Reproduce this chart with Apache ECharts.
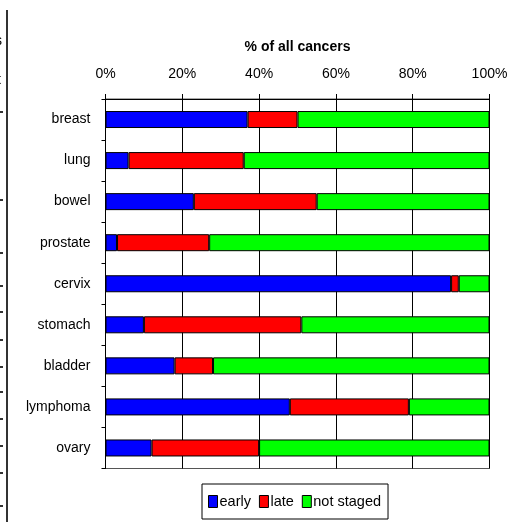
<!DOCTYPE html>
<html>
<head>
<meta charset="utf-8">
<script src="https://cdn.jsdelivr.net/npm/echarts@6/dist/echarts.min.js"></script>
<style>
html,body{margin:0;padding:0;background:#fff;}
#chart{width:525px;height:522px;}
</style>
</head>
<body>
<div id="chart"></div>
<script>
const categories = ['breast','lung','bowel','prostate','cervix','stomach','bladder','lymphoma','ovary'];
const early = [37, 6, 23, 3, 90, 10, 18, 48, 12];
const late = [13, 30, 32, 24, 2, 41, 10, 31, 28];
const notStaged = [50, 64, 45, 73, 8, 49, 72, 21, 60];
const seriesNames = ['early', 'late', 'not staged'];
const tickLabels = ['0%', '20%', '40%', '60%', '80%', '100%'];
const axisTitle = '% of all cancers';
const colors = ['#0000FF', '#FF0000', '#00FF00'];

const FONT = 'Liberation Sans, Arial, sans-serif';
const chart = echarts.init(document.getElementById('chart'), null, {renderer: 'canvas'});

const dashYs = [112, 200, 253, 286, 312, 340, 367, 392, 419, 446, 473, 506];
const graphics = [
  {type: 'line', shape: {x1: 7, y1: 10, x2: 7, y2: 522}, style: {stroke: '#333', lineWidth: 2}},
  {type: 'text', left: -5, top: 34, style: {text: 's', font: '14px ' + FONT, fill: '#000'}},
  {type: 'text', left: -3, top: 73, style: {text: 't', font: '14px ' + FONT, fill: '#000'}}
];
dashYs.forEach(y => graphics.push({type: 'line', shape: {x1: 0, y1: y, x2: 3, y2: y}, style: {stroke: '#333', lineWidth: 2}}));

const data = [early, late, notStaged];
chart.setOption({
  animation: false,
  backgroundColor: '#fff',
  graphic: graphics,
  grid: {left: 105.5, right: 35.5, top: 99, bottom: 53.5, containLabel: false, show: true,
         borderColor: '#555555', borderWidth: 1, backgroundColor: 'transparent'},
  legend: {
    top: 484,
    left: 202,
    data: seriesNames,
    itemWidth: 9,
    itemHeight: 12,
    itemGap: 8,
    padding: [10, 7, 10, 6],
    borderColor: '#000',
    borderWidth: 1,
    borderRadius: 0,
    textStyle: {fontFamily: FONT, fontSize: 14.5, color: '#000', padding: [0, 0, 0, -3]},
    itemStyle: {borderColor: '#000', borderWidth: 1},
    icon: 'rect'
  },
  xAxis: {
    type: 'value',
    position: 'top',
    min: 0,
    max: 100,
    interval: 20,
    name: axisTitle,
    nameLocation: 'middle',
    nameGap: 45,
    nameTextStyle: {fontFamily: FONT, fontSize: 14, fontWeight: 'bold', color: '#000'},
    axisLine: {show: true, lineStyle: {color: '#000', width: 1}},
    axisTick: {show: true, inside: false, length: 5, lineStyle: {color: '#000'}},
    axisLabel: {
      margin: 18,
      fontFamily: FONT, fontSize: 14, color: '#000',
      formatter: v => tickLabels[Math.round(v / 20)]
    },
    splitLine: {show: true, lineStyle: {color: '#000000', width: 1, type: 'solid', opacity: 1}}
  },
  yAxis: {
    type: 'category',
    data: categories,
    inverse: true,
    axisLine: {show: true, lineStyle: {color: '#000', width: 1}},
    axisTick: {show: true, length: 4, lineStyle: {color: '#000'}},
    axisLabel: {margin: 15, fontFamily: FONT, fontSize: 14, color: '#000'},
    splitLine: {show: false}
  },
  series: seriesNames.map((n, i) => ({
    name: n,
    type: 'bar',
    stack: 'total',
    barWidth: 17,
    data: data[i],
    itemStyle: {color: colors[i], borderColor: '#000', borderWidth: 1}
  }))
});
</script>
</body>
</html>
